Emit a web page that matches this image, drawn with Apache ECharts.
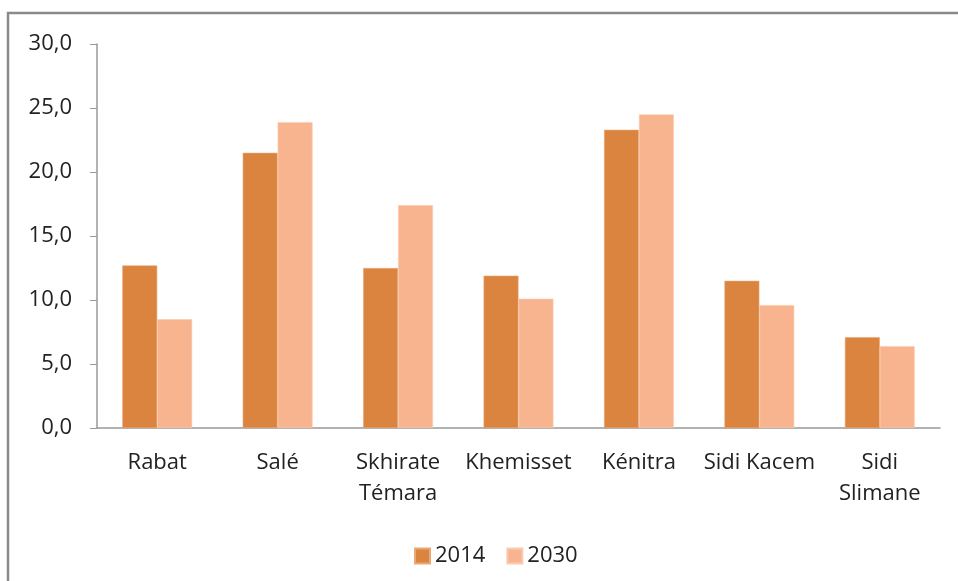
<!DOCTYPE html>
<html>
<head>
<meta charset="utf-8">
<script src="https://cdn.jsdelivr.net/npm/echarts@6/dist/echarts.min.js"></script>
<style>
  html, body { margin: 0; padding: 0; background: #fff; }
  #chart { width: 958px; height: 581px; }
</style>
</head>
<body>
<div id="chart"></div>
<script>
var categories = ['Rabat', 'Salé', 'Skhirate\nTémara', 'Khemisset', 'Kénitra', 'Sidi Kacem', 'Sidi\nSlimane'];
var values2014 = [12.7, 21.5, 12.5, 11.9, 23.3, 11.5, 7.1];
var values2030 = [8.5, 23.9, 17.4, 10.1, 24.5, 9.6, 6.4];
var yTicks = { min: 0, max: 30, interval: 5 };

var myChart = echarts.init(document.getElementById('chart'));
var font = '"Open Sans", "DejaVu Sans", sans-serif';

var option = {
    animation: false,
    textStyle: { fontFamily: font },
    graphic: [{
        type: 'rect',
        shape: { x: 8, y: 13, width: 1200, height: 800 },
        style: { fill: 'none', stroke: '#8a8a8a', lineWidth: 2.5 }
    }],
    grid: { left: 97, right: 18, top: 44, bottom: 153 },
    legend: {
        left: 409,
        top: 540,
        itemWidth: 15,
        itemHeight: 15,
        itemGap: 21,
        icon: 'rect',
        textStyle: { fontSize: 22, color: '#222', fontFamily: font },
        data: ['2014', '2030']
    },
    xAxis: {
        type: 'category',
        data: categories,
        axisLine: { lineStyle: { color: '#999', width: 1.5 } },
        axisTick: { length: 7, lineStyle: { color: '#999' } },
        axisLabel: { fontSize: 22, color: '#222', lineHeight: 31, margin: 19, interval: 0 }
    },
    yAxis: {
        type: 'value',
        min: yTicks.min,
        max: yTicks.max,
        interval: yTicks.interval,
        axisLine: { show: true, lineStyle: { color: '#999', width: 1.5 } },
        axisTick: { show: true, length: 7, lineStyle: { color: '#999' } },
        splitLine: { show: false },
        axisLabel: {
            fontSize: 22,
            color: '#222',
            margin: 25,
            formatter: function (v) { return v.toFixed(1).replace('.', ','); }
        }
    },
    series: [
        {
            name: '2014',
            type: 'bar',
            data: values2014,
            barGap: '0%',
            barCategoryGap: '42%',
            itemStyle: { color: '#DB843F', borderColor: '#EBA877', borderWidth: 0.6 }
        },
        {
            name: '2030',
            type: 'bar',
            data: values2030,
            itemStyle: { color: '#F8B48F', borderColor: '#FBCBB0', borderWidth: 0.6 }
        }
    ]
};

myChart.setOption(option);

window.addEventListener('resize', function () {
    myChart.resize();
});
</script>
</body>
</html>
